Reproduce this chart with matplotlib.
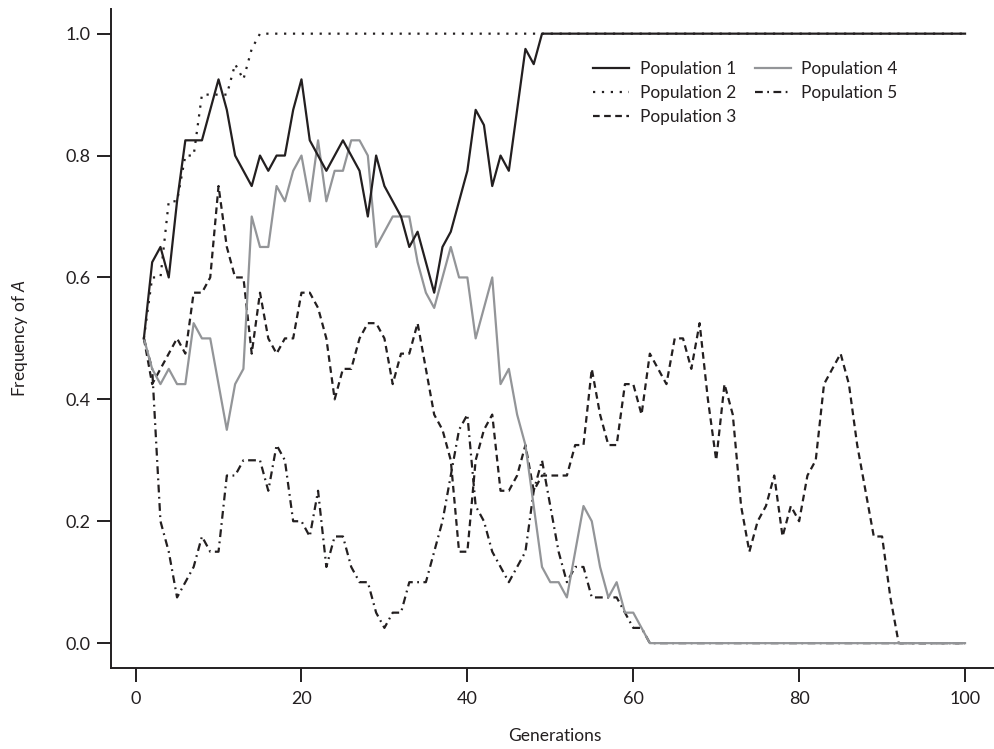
import matplotlib
matplotlib.use('Agg')
import matplotlib.pyplot as plt
import numpy as np

# Fonts (Myriad-like look)
plt.rcParams['font.family'] = ['Lato', 'DejaVu Sans']
plt.rcParams['mathtext.fontset'] = 'custom'
plt.rcParams['mathtext.rm'] = 'Lato'
plt.rcParams['mathtext.it'] = 'Lato:italic'

# Data: allele frequency of A over 100 generations, 5 replicate populations
generations = np.arange(1, 101)

pop1 = [0.5, 0.625, 0.65, 0.6, 0.725, 0.825, 0.825, 0.825, 0.875, 0.925,
        0.875, 0.8, 0.775, 0.75, 0.8, 0.775, 0.8, 0.8, 0.875, 0.925,
        0.825, 0.8, 0.775, 0.8, 0.825, 0.8, 0.775, 0.7, 0.8, 0.75,
        0.725, 0.7, 0.65, 0.675, 0.625, 0.575, 0.65, 0.675, 0.725, 0.775,
        0.875, 0.85, 0.75, 0.8, 0.775, 0.875, 0.975, 0.95] + [1.0] * 52

pop2 = [0.5, 0.6, 0.6, 0.725, 0.725, 0.8, 0.8, 0.9, 0.9, 0.9,
        0.9, 0.95, 0.925, 0.975] + [1.0] * 86

pop3 = [0.5, 0.425, 0.45, 0.475, 0.5, 0.475, 0.575, 0.575, 0.6, 0.75,
        0.65, 0.6, 0.6, 0.475, 0.575, 0.5, 0.475, 0.5, 0.5, 0.575,
        0.575, 0.55, 0.5, 0.4, 0.45, 0.45, 0.5, 0.525, 0.525, 0.5,
        0.425, 0.475, 0.475, 0.525, 0.45, 0.375, 0.35, 0.3, 0.15, 0.15,
        0.3, 0.35, 0.375, 0.25, 0.25, 0.275, 0.325, 0.25, 0.275, 0.275,
        0.275, 0.275, 0.325, 0.325, 0.45, 0.375, 0.325, 0.325, 0.425, 0.425,
        0.375, 0.475, 0.45, 0.425, 0.5, 0.5, 0.45, 0.525, 0.4, 0.3,
        0.425, 0.375, 0.225, 0.15, 0.2, 0.225, 0.275, 0.175, 0.225, 0.2,
        0.275, 0.3, 0.425, 0.45, 0.475, 0.425, 0.325, 0.25, 0.175, 0.175,
        0.075] + [0.0] * 9

pop4 = [0.5, 0.45, 0.425, 0.45, 0.425, 0.425, 0.525, 0.5, 0.5, 0.425,
        0.35, 0.425, 0.45, 0.7, 0.65, 0.65, 0.75, 0.725, 0.775, 0.8,
        0.725, 0.825, 0.725, 0.775, 0.775, 0.825, 0.825, 0.8, 0.65, 0.675,
        0.7, 0.7, 0.7, 0.625, 0.575, 0.55, 0.6, 0.65, 0.6, 0.6,
        0.5, 0.55, 0.6, 0.425, 0.45, 0.375, 0.325, 0.225, 0.125, 0.1,
        0.1, 0.075, 0.15, 0.225, 0.2, 0.125, 0.075, 0.1, 0.05, 0.05,
        0.025] + [0.0] * 39

pop5 = [0.5, 0.45, 0.2, 0.15, 0.075, 0.1, 0.125, 0.175, 0.15, 0.15,
        0.275, 0.275, 0.3, 0.3, 0.3, 0.25, 0.325, 0.3, 0.2, 0.2,
        0.175, 0.25, 0.125, 0.175, 0.175, 0.125, 0.1, 0.1, 0.05, 0.025,
        0.05, 0.05, 0.1, 0.1, 0.1, 0.15, 0.2, 0.275, 0.35, 0.375,
        0.225, 0.2, 0.15, 0.125, 0.1, 0.125, 0.15, 0.25, 0.3, 0.225,
        0.15, 0.1, 0.125, 0.125, 0.075, 0.075, 0.075, 0.075, 0.05, 0.025,
        0.025] + [0.0] * 39

dark = '#231f20'
grey = '#939598'

fig = plt.figure(figsize=(9.94, 7.49), dpi=100)
ax = fig.add_axes([0.1117, 0.1088, 0.8922, 0.8788])

lw = 1.6
ax.plot(generations, pop1, color=dark, lw=lw, linestyle='solid', label='Population 1', zorder=4)
ax.plot(generations, pop2, color=dark, lw=lw, linestyle=(0, (1, 3)), label='Population 2', zorder=2)
ax.plot(generations, pop3, color=dark, lw=lw, linestyle=(0, (3, 2)), label='Population 3', zorder=2)
ax.plot(generations, pop4, color=grey, lw=lw, linestyle='solid', label='Population 4', zorder=3)
ax.plot(generations, pop5, color=dark, lw=lw, linestyle=(0, (3.5, 2, 0.8, 2)), label='Population 5', zorder=2)

# R-style axis ranges (4% padding)
ax.set_xlim(1 - 0.04 * 99, 100 + 0.04 * 99)
ax.set_ylim(-0.04, 1.04)
ax.set_xticks([0, 20, 40, 60, 80, 100])
ax.set_yticks([0.0, 0.2, 0.4, 0.6, 0.8, 1.0])
ax.set_yticklabels(['0.0', '0.2', '0.4', '0.6', '0.8', '1.0'])

ax.spines['top'].set_visible(False)
ax.spines['right'].set_visible(False)
for s in ['left', 'bottom']:
    ax.spines[s].set_linewidth(1.4)
    ax.spines[s].set_color(dark)
ax.tick_params(direction='out', length=10, width=1.4, color=dark, labelsize=13,
               labelcolor=dark)
ax.tick_params(axis='y', pad=5)
ax.tick_params(axis='x', pad=7)

ax.set_xlabel('Generations', fontsize=12.5, color=dark, labelpad=15)
ax.set_ylabel(r'Frequency of $\mathit{A}$', fontsize=12.5, color=dark, labelpad=25)

ax.legend(loc='upper left', bbox_to_anchor=(0.588, 0.930), bbox_transform=fig.transFigure,
          ncol=2, frameon=False, fontsize=12.4, borderpad=0, labelspacing=0.47,
          handlelength=2.1, handletextpad=0.6, columnspacing=1.1, labelcolor=dark)

plt.savefig('out.png', dpi=100)
